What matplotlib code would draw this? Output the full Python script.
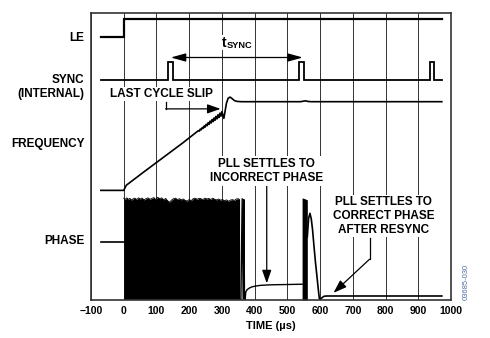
"""
Timing diagram: LE, SYNC, frequency and phase settling after a resync.
"""

import matplotlib
matplotlib.use("Agg")  # Non-interactive backend
import matplotlib.pyplot as plt

plt.rcParams["font.family"] = ["Liberation Sans", "DejaVu Sans"]
plt.rcParams["font.weight"] = "bold"

# ── Time axis (µs) ──
time_ticks = [-100, 0, 100, 200, 300, 400, 500, 600, 700, 800, 900, 1000]
tick_labels = ["\u2212100", "0", "100", "200", "300", "400", "500",
               "600", "700", "800", "900", "1000"]

# ── LE ──
le_t = [-70, 0, 0, 972]
le_y = [91.7, 91.7, 97.9, 97.9]

# ── SYNC (internal) pulses ──
sync_t = [-70, 136, 136, 151, 151, 537, 537, 550, 550, 935, 935, 949, 949, 972]
sync_y = [76.7, 76.7, 82.8, 82.8, 76.7, 76.7, 82.8, 82.8, 76.7, 76.7,
          82.8, 82.8, 76.7, 76.7]

# ── Frequency: ramp, cycle slips, overshoot, lock ──
freq_t = [-70, 0, 3, 8, 60, 120, 180, 228,
          231, 234, 237, 240, 243, 246, 249, 252, 255, 258,
          261, 264, 267, 270, 273, 276, 279, 282, 285, 288,
          291, 294, 297, 300, 306, 310, 314, 319, 325, 331,
          338, 346, 360, 450, 540, 550, 556, 562, 572, 972]
freq_y = [38.2, 38.2, 38.9, 40.0, 44.5, 49.6, 54.7, 59.0,
          58.85, 59.56, 59.32, 60.12, 59.79, 60.67, 60.27, 61.22, 60.74, 61.78,
          61.21, 62.33, 61.69, 62.88, 62.16, 63.44, 62.63, 63.99, 63.11, 64.54,
          63.58, 65.10, 64.05, 65.65, 63.3, 66.0, 68.6, 70.3, 70.7, 70.2,
          69.5, 69.2, 69.1, 69.1, 69.1, 69.3, 69.4, 69.2, 69.1, 69.1]

# ── Phase ──
phase_pre_t = [-70, 0]
phase_pre_y = [20.1, 20.1]

# envelope of the dense phase oscillation before lock
phase_band_t = [0, 4, 9, 14, 19, 24, 29, 34, 40, 45,
                50, 56, 62, 68, 74, 80, 86, 92, 98, 104,
                110, 116, 122, 128, 134, 140, 146, 152, 158, 164,
                170, 176, 182, 188, 194, 200, 206, 212, 218, 224,
                230, 236, 242, 248, 254, 260, 266, 272, 278, 284,
                290, 296, 302, 308, 314, 320, 326, 332, 338, 344,
                350, 354]
phase_band_top = [35.5, 35.0, 35.6, 35.1, 35.4, 34.8, 35.3, 35.5, 35.0, 35.6,
                  35.2, 35.5, 34.9, 35.3, 35.6, 35.1, 35.4, 35.7, 35.0, 35.8,
                  35.3, 35.6, 34.9, 35.4, 34.6, 34.1, 34.8, 35.3, 35.5, 35.0,
                  35.3, 34.9, 35.2, 34.7, 34.5, 35.0, 34.6, 35.3, 35.5, 35.1,
                  35.4, 35.3, 35.0, 35.5, 35.2, 35.4, 35.0, 35.5, 35.1, 34.9,
                  35.2, 34.8, 35.0, 34.6, 34.9, 34.4, 34.8, 35.0, 34.7, 35.2,
                  35.3, 35.0]
phase_band_bottom = 0.2

# last slips, then settling to the wrong phase
phase_tail_t = [354, 358, 362, 365, 367, 369, 371, 373, 377, 383,
                390, 400, 417, 450, 500, 545]
phase_tail_y = [0.2, 0.2, 35.3, 0.3, 35.0, 0.2, 0.1, 2.8, 3.6, 4.1,
                4.5, 4.8, 5.1, 5.3, 5.4, 5.5]

# resync burst and settling to the correct phase
resync_t = [545, 553, 561]
resync_top = [35.6, 35.3, 34.9]
phase_post_t = [561, 565, 569, 573, 577, 581, 586, 591, 595, 598,
                603, 608, 612, 620, 972]
phase_post_y = [22.0, 28.5, 30.2, 28.3, 24.5, 19.2, 13.0, 7.6, 3.2, 0.3,
                0.5, 1.0, 1.3, 1.4, 1.4]

TRACE = "black"
GRID = "#333333"

fig = plt.figure(figsize=(4.9, 3.38), dpi=100)
ax = fig.add_axes([0.1857, 0.1124, 0.7347, 0.8491])
ax.set_xlim(-100, 1000)
ax.set_ylim(0, 100)

ax.set_xticks(time_ticks)
ax.set_xticklabels(tick_labels, fontsize=7.5, fontweight="bold")
ax.set_yticks([])
ax.tick_params(axis="x", length=0, pad=4)
ax.grid(True, axis="x", color=GRID, linewidth=0.7)
ax.set_axisbelow(True)
for sp in ax.spines.values():
    sp.set_color(GRID)
    sp.set_linewidth(1.2)
ax.set_xlabel("TIME (\u00b5s)", fontsize=8, fontweight="bold", labelpad=4)

# ── Traces ──
ax.plot(le_t, le_y, color=TRACE, lw=1.6, solid_joinstyle="miter")
ax.plot(sync_t, sync_y, color=TRACE, lw=1.3, solid_joinstyle="miter")
ax.plot(freq_t, freq_y, color=TRACE, lw=1.2)

ax.plot(phase_pre_t, phase_pre_y, color=TRACE, lw=1.2)
ax.fill_between(phase_band_t, phase_band_bottom, phase_band_top,
                color=TRACE, lw=0)
ax.plot(phase_band_t, phase_band_top, color=TRACE, lw=0.6)
ax.plot(phase_tail_t, phase_tail_y, color=TRACE, lw=1.0)
ax.fill_between(resync_t, 0, resync_top, color=TRACE, lw=0)
ax.plot(phase_post_t, phase_post_y, color=TRACE, lw=1.2)

# ── Annotations ──
box = dict(facecolor="white", edgecolor="none", pad=1.0)
txt = dict(fontsize=8.5, fontweight="bold", bbox=box, zorder=4)
head = "-|>,head_length=0.8,head_width=0.28"

# t_SYNC span between resync pulses
ax.annotate("", xy=(547, 84.5), xytext=(144, 84.5),
            arrowprops=dict(arrowstyle="<|-|>,head_length=0.9,head_width=0.25",
                            color=TRACE, lw=0.9, shrinkA=0, shrinkB=0,
                            mutation_scale=10))
ax.text(300, 88.3, "t", ha="left", va="baseline", fontsize=10,
        fontweight="bold", bbox=dict(facecolor="white", edgecolor="none", pad=0.5),
        zorder=4)
ax.text(316, 87.7, "SYNC", ha="left", va="baseline", fontsize=6.7,
        fontweight="bold", zorder=4)

# last cycle slip
ax.text(115, 71.8, "LAST CYCLE SLIP", ha="center", va="center", **txt)
ax.plot([128, 128], [68.9, 66.6], color=TRACE, lw=0.9)
ax.annotate("", xy=(296, 66.6), xytext=(128, 66.6),
            arrowprops=dict(arrowstyle=head, color=TRACE, lw=0.9,
                            shrinkA=0, shrinkB=0, mutation_scale=10))

# wrong phase lock
ax.text(437, 44.9, "PLL SETTLES TO\nINCORRECT PHASE", ha="center",
        va="center", linespacing=1.3, **txt)
ax.annotate("", xy=(437, 5.8), xytext=(437, 40.0),
            arrowprops=dict(arrowstyle=head, color=TRACE, lw=0.9,
                            shrinkA=0, shrinkB=0, mutation_scale=10))

# correct phase after resync
ax.text(794, 29.3, "PLL SETTLES TO\nCORRECT PHASE\nAFTER RESYNC",
        ha="center", va="center", linespacing=1.2, **txt)
ax.plot([751, 751], [21.5, 14.2], color=TRACE, lw=0.9)
ax.annotate("", xy=(641, 2.5), xytext=(751, 14.2),
            arrowprops=dict(arrowstyle=head, color=TRACE, lw=0.9,
                            shrinkA=0, shrinkB=0, mutation_scale=10))

# ── Signal names ──
lab = dict(ha="right", va="center", fontsize=8.5, fontweight="bold")
fig.text(0.172, 0.8876, "LE", **lab)
fig.text(0.172, 0.7627, "SYNC", **lab)
fig.text(0.172, 0.7213, "(INTERNAL)", **lab)
fig.text(0.172, 0.5746, "FREQUENCY", **lab)
fig.text(0.172, 0.2870, "PHASE", **lab)

fig.text(0.952, 0.166, "03685-030", rotation=90, ha="center", va="center",
         fontsize=5.5, fontweight="normal", color="#4f6fa8")

fig.savefig("out.png", dpi=100)
plt.close(fig)
